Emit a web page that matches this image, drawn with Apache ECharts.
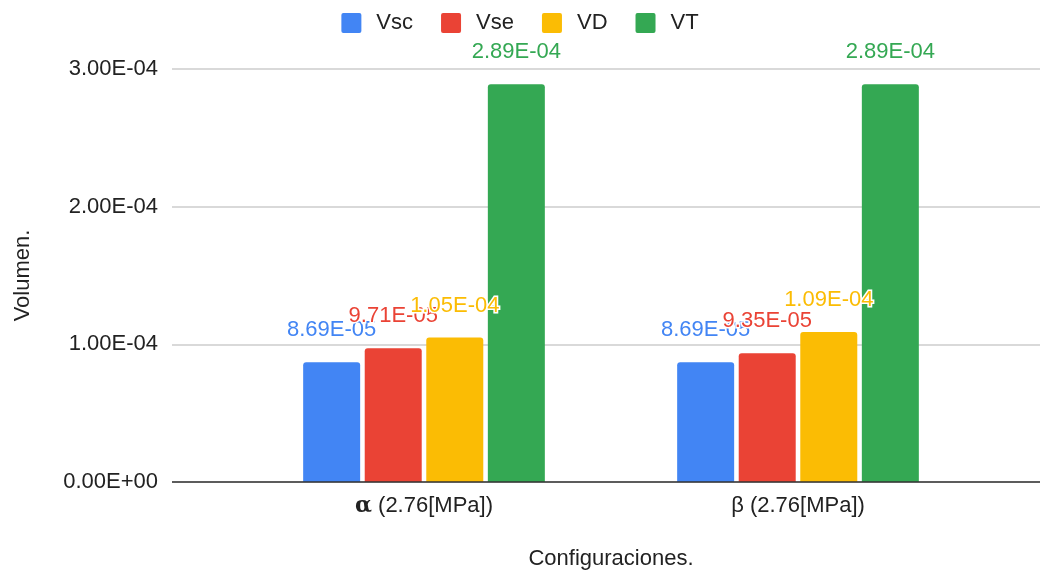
<!DOCTYPE html>
<html>
<head>
<meta charset="utf-8">
<script src="https://cdn.jsdelivr.net/npm/echarts@6/dist/echarts.min.js"></script>
<style>
html,body{margin:0;padding:0;background:#fff;}
#chart{width:1040px;height:572px;}
</style>
</head>
<body>
<div id="chart"></div>
<script>
// Volumes per configuration
const categories = ['α (2.76[MPa])', 'β (2.76[MPa])'];
const seriesNames = ['Vsc', 'Vse', 'VD', 'VT'];
const vsc = [8.69e-5, 8.69e-5];
const vse = [9.71e-5, 9.35e-5];
const vd = [1.05e-4, 1.09e-4];
const vt = [2.89e-4, 2.89e-4];
const yTicks = [0, 1e-4, 2e-4, 3e-4];

const colors = ['#4285F4', '#EA4335', '#FBBC04', '#34A853'];
const values = [vsc, vse, vd, vt];

function sci(v) {
  const s = Number(v).toExponential(2);
  const m = s.match(/^(-?[\d.]+)e([+-])(\d+)$/);
  return m[1] + 'E' + m[2] + m[3].padStart(2, '0');
}

const FONT = '"Liberation Sans", Arial, sans-serif';
const FS = 22;
const Y_MIN = yTicks[0], Y_MAX = yTicks[yTicks.length - 1];
const Y_STEP = yTicks[1] - yTicks[0];
const SQUARE = 'path://M2,0 H18 Q20,0 20,2 V18 Q20,20 18,20 H2 Q0,20 0,18 V2 Q0,0 2,0 Z';

const chart = echarts.init(document.getElementById('chart'));
chart.setOption({
  animation: false,
  color: colors,
  textStyle: { fontFamily: FONT },
  legend: {
    top: 7,
    left: 'center',
    itemWidth: 20,
    itemHeight: 20,
    itemGap: 28,
    icon: SQUARE,
    textStyle: { fontSize: FS, color: '#222', fontFamily: FONT, padding: [0, 0, 0, 10] },
    data: seriesNames
  },
  grid: [
    { left: 172, right: 0, top: 69, bottom: 90, outerBoundsMode: 'none' },
    { left: 237, right: 55, top: 69, bottom: 90, outerBoundsMode: 'none' }
  ],
  xAxis: [
    { type: 'category', gridIndex: 0, data: ['', ''], show: false },
    {
      type: 'category', gridIndex: 1, data: categories,
      axisLine: { show: false }, axisTick: { show: false },
      axisLabel: {
        fontSize: FS, color: '#222', margin: 13, fontFamily: FONT,
        // the alpha glyph comes out heavier than the rest of the label
        formatter: v => v.charAt(0) === 'α' ? '{g|α}' + v.slice(1) : v,
        rich: { g: { fontSize: FS, fontWeight: 'bold', color: '#222', fontFamily: 'DejaVu Serif, serif' } }
      },
      name: 'Configuraciones.', nameLocation: 'middle', nameGap: 66,
      nameTextStyle: { fontSize: FS, color: '#222', fontFamily: FONT }
    }
  ],
  yAxis: [
    {
      type: 'value', gridIndex: 0, min: Y_MIN, max: Y_MAX, interval: Y_STEP,
      axisLine: { show: false }, axisTick: { show: false },
      splitLine: { lineStyle: { color: '#cccccc', width: 1.5 } },
      axisLabel: { fontSize: FS, color: '#222', margin: 14, fontFamily: FONT,
        formatter: v => sci(v) },
      name: 'Volumen.', nameLocation: 'middle', nameGap: 138, nameRotate: 90,
      nameTextStyle: { fontSize: FS, color: '#222', fontFamily: FONT }
    },
    { type: 'value', gridIndex: 1, min: Y_MIN, max: Y_MAX, interval: Y_STEP, show: false }
  ],
  series: seriesNames.map((name, i) => ({
    name: name,
    type: 'bar',
    xAxisIndex: 1,
    yAxisIndex: 1,
    data: values[i],
    barWidth: 57,
    barGap: '8%',
    itemStyle: { color: colors[i], borderRadius: [3, 3, 0, 0] },
    label: {
      show: true, position: 'top', distance: 21,
      fontSize: FS, fontFamily: FONT, color: colors[i],
      textBorderColor: '#fff', textBorderWidth: 3,
      formatter: p => sci(p.value)
    }
  })).concat([{
    // baseline at zero across the full plot width
    type: 'line', xAxisIndex: 0, yAxisIndex: 0, data: [], silent: true,
    markLine: {
      symbol: 'none', silent: true, label: { show: false },
      lineStyle: { color: '#333', width: 1.5, type: 'solid' },
      data: [{ yAxis: 0 }]
    }
  }])
});
</script>
</body>
</html>
